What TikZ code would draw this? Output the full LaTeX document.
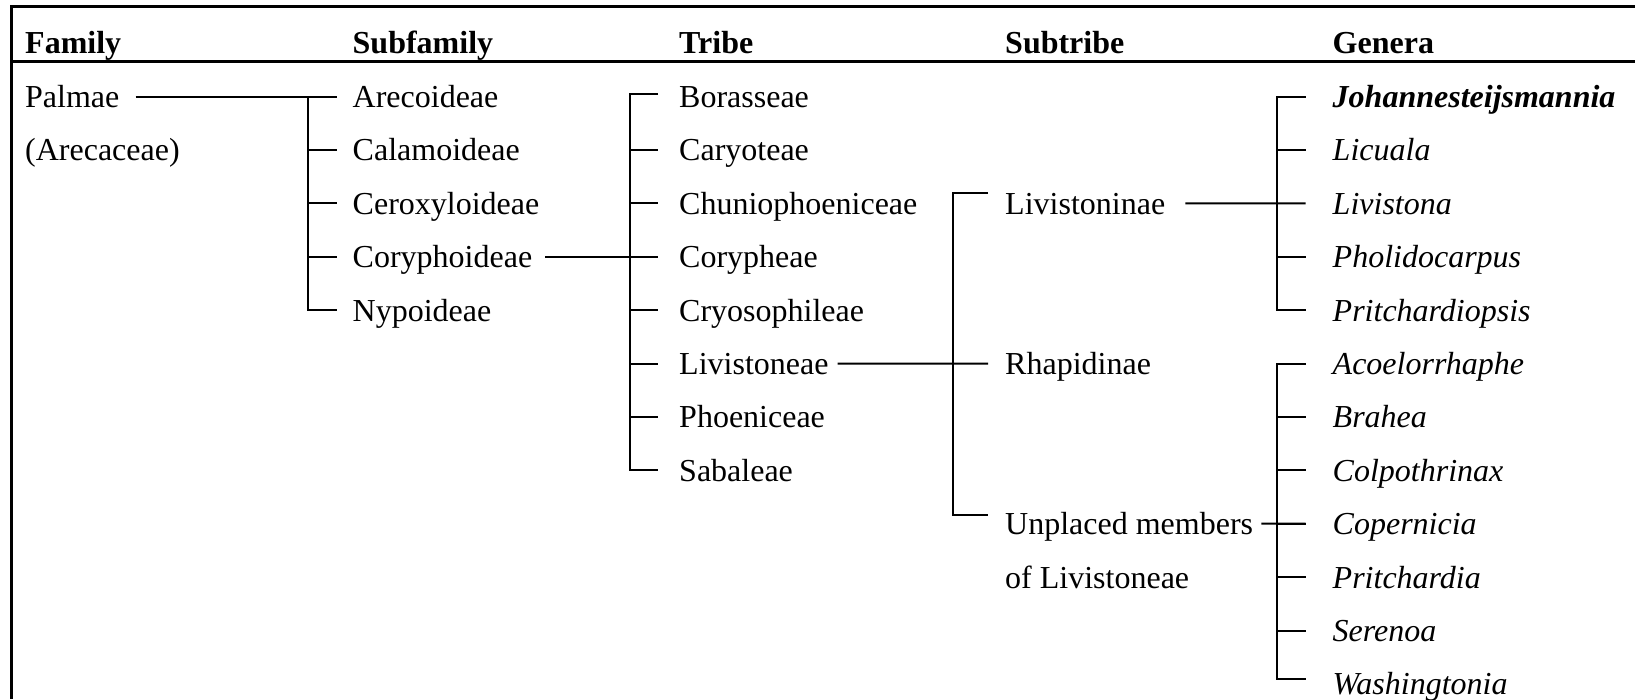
\documentclass[tikz,border=0pt]{standalone}
\usepackage{fontspec}
\setmainfont{Liberation Serif}
\usetikzlibrary{calc}

\newcommand\taxfont{\fontsize{32}{38}\selectfont}
\tikzset{
  taxon/.style={anchor=base west,inner sep=0pt,text height=22pt,text depth=0pt,font=\taxfont},
  genus/.style={taxon,font=\taxfont\itshape},
  colhead/.style={taxon,font=\taxfont\bfseries},
  rule/.style={line width=3pt},
  link/.style={line width=2pt},
}

\begin{document}
\begin{tikzpicture}[x=1pt,y=-1pt]
  \fill[white] (0,0) rectangle (1635,699);
  \useasboundingbox (0,0) rectangle (1635,699);
  % frame and header rule
  \draw[rule] (11,699) -- (11,6) -- (1635,6);
  \draw[rule] (11,61) -- (1635,61);
  \foreach \hx/\htext in {25/Family,352.5/Subfamily,679/Tribe,1005/Subtribe,1332.5/Genera}
    \node[colhead] at (\hx,53) {\htext};

  % columns
  \node[taxon] (palmae) at (25,107.5) {Palmae};
  \node[taxon] (areca) at (25,160.9) {(Arecaceae)};
  \foreach \i/\name in {1/Arecoideae,2/Calamoideae,3/Ceroxyloideae,4/Coryphoideae,5/Nypoideae}
    \node[taxon] (sf\i) at (352.5,{107.5+53.4*(\i-1)}) {\name};
  \foreach \i/\name in {1/Borasseae,2/Caryoteae,3/Chuniophoeniceae,4/Corypheae,
      5/Cryosophileae,6/Livistoneae,7/Phoeniceae,8/Sabaleae}
    \node[taxon] (tr\i) at (679,{107.5+53.4*(\i-1)}) {\name};
  \node[taxon] (st1) at (1005,214.3) {Livistoninae};
  \node[taxon] (st2) at (1005,374.5) {Rhapidinae};
  \node[taxon] (st3) at (1005,534.7) {Unplaced members};
  \node[taxon] (st4) at (1005,588.1) {of Livistoneae};
  \node[taxon,font=\taxfont\bfseries\itshape] (g1) at (1332.5,107.5) {Johannesteijsmannia};
  \foreach \i/\name in {2/Licuala,3/Livistona,4/Pholidocarpus,5/Pritchardiopsis,
      6/Acoelorrhaphe,7/Brahea,8/Colpothrinax,9/Copernicia,10/Pritchardia,
      11/Serenoa,12/Washingtonia}
    \node[genus] (g\i) at (1332.5,{107.5+53.4*(\i-1)}) {\name};

  % brackets
  \coordinate (sfbar) at (307.5,0);
  \coordinate (trbar) at (629.5,0);
  \coordinate (stbar) at (953,0);
  \coordinate (gbar) at (1277,0);

  \draw[link] ([xshift=16]palmae.east) -- ([xshift=-16]sf1.west);
  \draw[link] (sfbar |- sf1.west) -- (sfbar |- sf5.west) -- ([xshift=-16]sf5.west);
  \foreach \i in {2,3,4}
    \draw[link] (sfbar |- sf\i.west) -- ([xshift=-16]sf\i.west);

  \draw[link] ([xshift=13]sf4.east) -- ([xshift=-21]tr4.west);
  \draw[link] ([xshift=-21,yshift=3]tr1.west) -| (trbar |- tr8.west) -- ([xshift=-21]tr8.west);
  \foreach \i in {2,...,7}
    \draw[link] (trbar |- tr\i.west) -- ([xshift=-21]tr\i.west);

  \draw[link] ([xshift=9]tr6.east) -- ([xshift=-17]st2.west);
  \draw[link] ([xshift=-17,yshift=10]st1.west) -| ($(stbar |- st3.west)+(0,-9)$) -- ([xshift=-17,yshift=9]st3.west);

  \draw[link] ([xshift=20]st1.east) -- ([xshift=-27]g3.west);
  \draw[link] ([xshift=-27]g1.west) -| (gbar |- g5.west) -- ([xshift=-27]g5.west);
  \foreach \i in {2,4}
    \draw[link] (gbar |- g\i.west) -- ([xshift=-27]g\i.west);
  \draw[link] ([xshift=8]st3.east) -- ([xshift=-27]g9.west);
  \draw[link] ([xshift=-27]g6.west) -| ($(gbar |- g12.west)+(0,-5)$) -- ([xshift=-27,yshift=5]g12.west);
  \foreach \i in {7,...,11}
    \draw[link] (gbar |- g\i.west) -- ([xshift=-27]g\i.west);
\end{tikzpicture}
\end{document}
